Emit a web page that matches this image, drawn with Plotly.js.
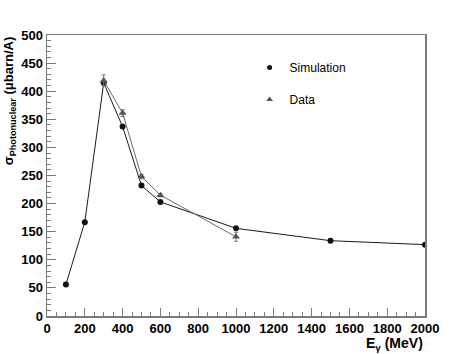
<!DOCTYPE html>
<html>
<head>
<meta charset="utf-8">
<script src="https://cdn.plot.ly/plotly-3.0.1.min.js"></script>
<style>
  body { margin: 0; background: #fff; }
  #graph { width: 474px; height: 354px; }
</style>
</head>
<body>
<div id="graph"></div>
<script>
// energies (MeV) and cross sections (ubarn/A)
const simEnergy = [100, 200, 300, 400, 500, 600, 1000, 1500, 2000]
const simSigma = [56, 167, 415, 337, 232, 203, 156, 134, 127]

const dataEnergy = [300, 400, 500, 600, 1000]
const dataSigma = [419, 361, 248, 215, 141]
const dataErr = [10, 6, 4, 3, 8]

const xTicks = [0, 200, 400, 600, 800, 1000, 1200, 1400, 1600, 1800, 2000]
const yTicks = [0, 50, 100, 150, 200, 250, 300, 350, 400, 450, 500]

const axisGrey = '#7a7a7a'
const labelFont = { family: 'Liberation Sans, Arial, sans-serif', size: 13, color: '#000', weight: 'bold' }

const graphData = [
    {
        x: simEnergy,
        y: simSigma,
        mode: 'lines+markers',
        type: 'scatter',
        line: { color: '#1a1a1a', width: 1 },
        marker: { symbol: 'circle', size: 6, color: '#111' },
        showlegend: false,
    },
    {
        x: dataEnergy,
        y: dataSigma,
        mode: 'lines+markers',
        type: 'scatter',
        line: { color: '#6a6a6a', width: 1 },
        marker: { symbol: 'triangle-up', size: 7, color: '#555' },
        error_y: { type: 'data', array: dataErr, visible: true, color: '#777', thickness: 1, width: 2 },
        showlegend: false,
    },
    // legend entries (markers only)
    {
        x: [null], y: [null], mode: 'markers', type: 'scatter', name: 'Simulation',
        marker: { symbol: 'circle', size: 5, color: '#111' }, legendgroup: 'a',
    },
    {
        x: [null], y: [null], mode: 'markers', type: 'scatter', name: 'Data',
        marker: { symbol: 'triangle-up', size: 6, color: '#555' }, legendgroup: 'b',
    },
]

const layout = {
    width: 474,
    height: 354,
    margin: { l: 47, r: 49, t: 35, b: 38 },
    paper_bgcolor: '#fff',
    plot_bgcolor: '#fff',
    font: { family: 'Liberation Sans, Arial, sans-serif', color: '#000' },
    xaxis: {
        range: [0, 2000],
        tickvals: xTicks,
        ticks: 'inside',
        ticklen: 8,
        tickcolor: axisGrey,
        tickwidth: 1,
        minor: { dtick: 50, ticks: 'inside', ticklen: 4, tickcolor: axisGrey, showgrid: false },
        showline: true,
        linecolor: axisGrey,
        linewidth: 1.5,
        mirror: true,
        showgrid: false,
        zeroline: false,
        tickfont: labelFont,
    },
    yaxis: {
        range: [0, 500],
        tickvals: yTicks,
        ticks: 'inside',
        ticklen: 9,
        tickcolor: axisGrey,
        tickwidth: 1,
        minor: { dtick: 10, ticks: 'inside', ticklen: 4, tickcolor: axisGrey, showgrid: false },
        showline: true,
        linecolor: axisGrey,
        linewidth: 1.5,
        mirror: true,
        showgrid: false,
        zeroline: false,
        tickfont: labelFont,
        ticklabelstandoff: 0,
    },
    legend: {
        x: 0.536, y: 0.936,
        xanchor: 'left', yanchor: 'top',
        bgcolor: 'rgba(0,0,0,0)',
        font: { family: 'Liberation Sans, Arial, sans-serif', size: 12, color: '#000' },
        traceorder: 'grouped',
        tracegroupgap: 13,
    },
    annotations: [
        {
            text: 'σ<sub>Photonuclear</sub> (μbarn/A)',
            xref: 'paper', yref: 'paper',
            x: -0.1, y: 1.0,
            xanchor: 'center', yanchor: 'top',
            textangle: -90,
            showarrow: false,
            font: { family: 'Liberation Sans, Arial, sans-serif', size: 13, color: '#000', weight: 'bold' },
        },
        {
            text: 'E<sub>γ</sub> (MeV)',
            xref: 'paper', yref: 'paper',
            x: 1.0, y: -0.1,
            xanchor: 'right', yanchor: 'middle',
            showarrow: false,
            font: { family: 'Liberation Sans, Arial, sans-serif', size: 14, color: '#000', weight: 'bold' },
        },
    ],
}

Plotly.newPlot('graph', graphData, layout, { displayModeBar: false, staticPlot: true })
</script>
</body>
</html>
